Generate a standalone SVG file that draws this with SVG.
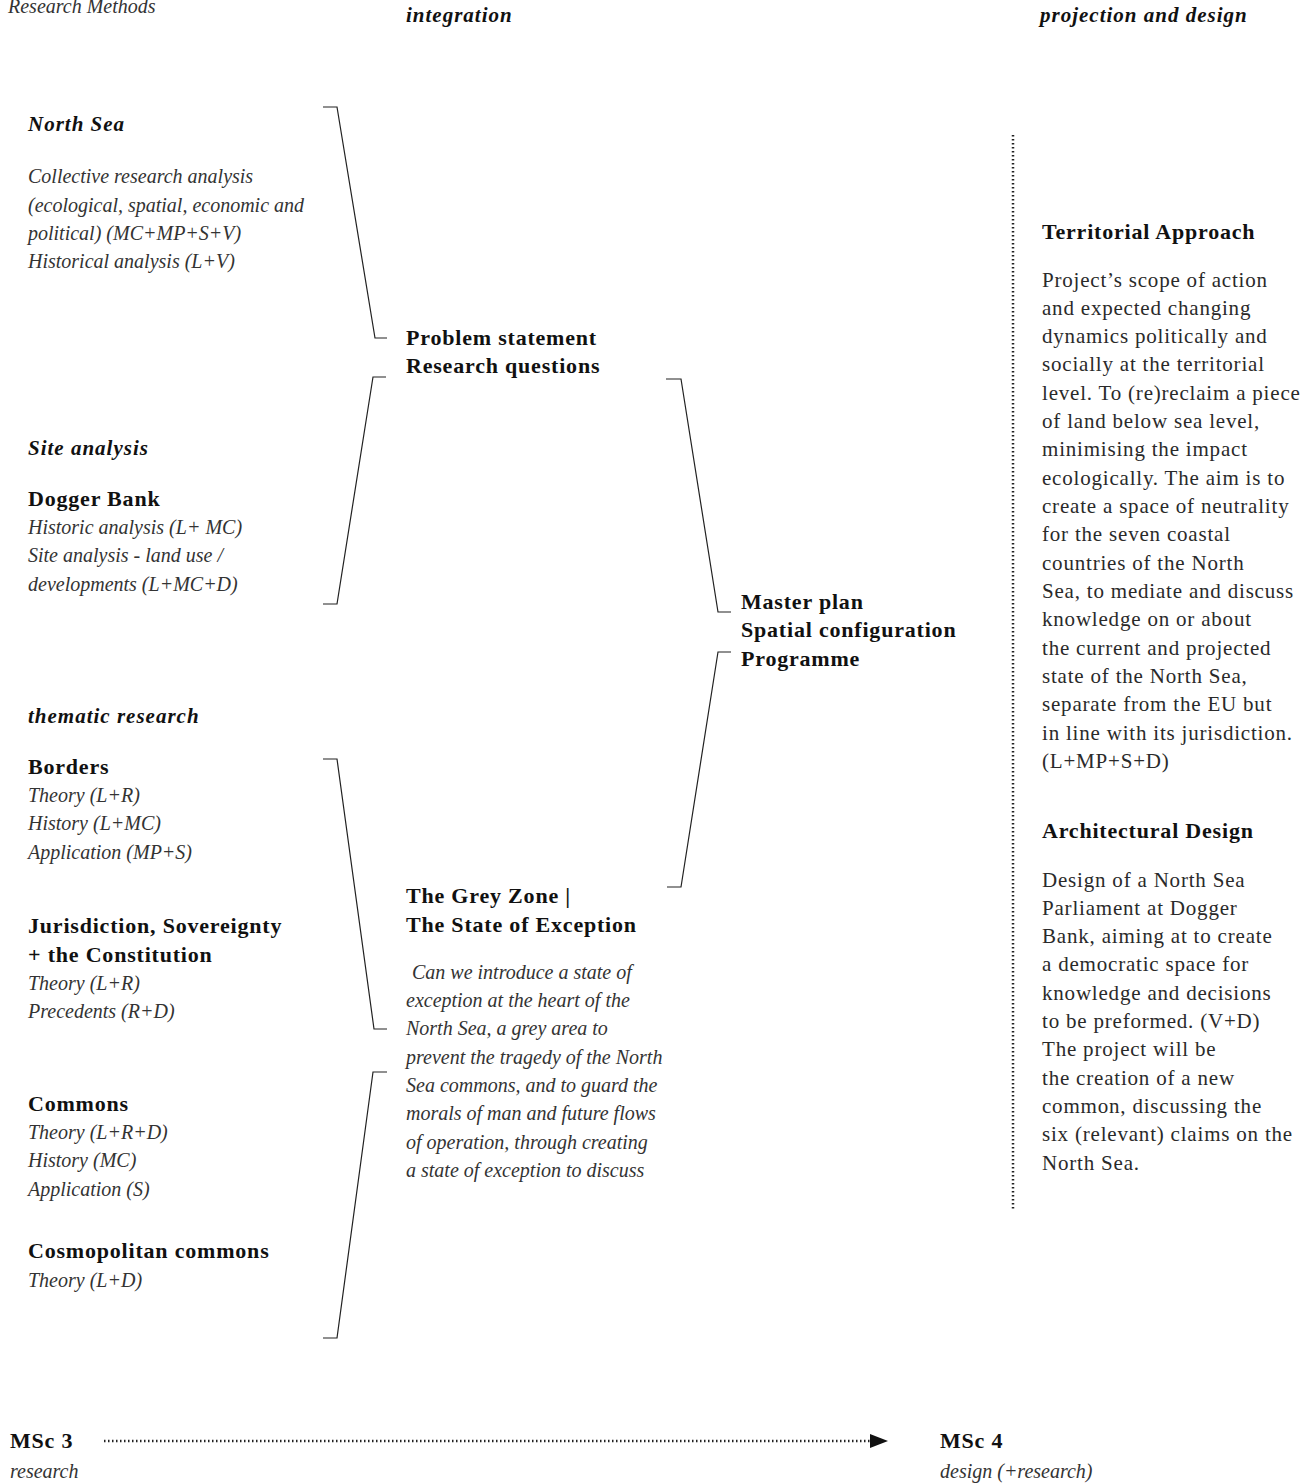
<svg xmlns="http://www.w3.org/2000/svg" width="1312" height="1483" viewBox="0 0 1312 1483">
  <style>
    text { font-family: "Liberation Serif", "DejaVu Serif", serif; font-size: 21px; letter-spacing: 0.8px; fill: #2a2a2a; }
    .b { font-weight: bold; font-size: 22px; letter-spacing: 0.8px; fill: #111; }
    .i { font-style: italic; font-size: 20px; letter-spacing: 0; fill: #333; }
    .bi { font-weight: bold; font-style: italic; letter-spacing: 1px; fill: #111; }
    .bracket { fill: none; stroke: #222; stroke-width: 1.2; }
    .dots { fill: none; stroke: #222; stroke-width: 2.5; stroke-dasharray: 1.5 2.5; }
  </style>
  <defs>
    <marker id="arrow" markerWidth="18" markerHeight="16" refX="1" refY="8" orient="auto" markerUnits="userSpaceOnUse">
      <path d="M0,1 L0,15 L18,8 Z" fill="#111"/>
    </marker>
  </defs>
  <rect width="1312" height="1483" fill="#fff"/>

  <!-- column headings -->
  <g id="headings">
    <text class="i" x="8" y="13">Research Methods</text>
    <text class="bi" x="406" y="22">integration</text>
    <text class="bi" x="1040" y="22">projection and design</text>
  </g>

  <!-- brackets linking the stages -->
  <g id="connectors">
    <polyline class="bracket" points="323,107 337,107 375,338 387,338"/>
    <polyline class="bracket" points="386,377 373,377 337,604 323,604"/>
    <polyline class="bracket" points="666,379 681,379 718,612 731,612"/>
    <polyline class="bracket" points="731,652 718,652 681,887 667,887"/>
    <polyline class="bracket" points="323,759 337,759 374,1029 387,1029"/>
    <polyline class="bracket" points="387,1072 373,1072 337,1338 323,1338"/>
    <line class="dots" x1="1013" y1="135" x2="1013" y2="1210"/>
    <line class="dots" x1="104" y1="1441" x2="871" y2="1441" marker-end="url(#arrow)"/>
  </g>

  <g id="north-sea">
    <text class="bi" x="28" y="131">North Sea</text>
    <text class="i" x="28" y="183">Collective research analysis</text>
    <text class="i" x="28" y="212">(ecological, spatial, economic and</text>
    <text class="i" x="28" y="240">political) (MC+MP+S+V)</text>
    <text class="i" x="28" y="268">Historical analysis (L+V)</text>
  </g>

  <g id="site-analysis">
    <text class="bi" x="28" y="455">Site analysis</text>
    <text class="b" x="28" y="506">Dogger Bank</text>
    <text class="i" x="28" y="534">Historic analysis (L+ MC)</text>
    <text class="i" x="28" y="562">Site analysis - land use /</text>
    <text class="i" x="28" y="591">developments (L+MC+D)</text>
  </g>

  <g id="thematic-research">
    <text class="bi" x="28" y="723">thematic research</text>
    <text class="b" x="28" y="774">Borders</text>
    <text class="i" x="28" y="802">Theory (L+R)</text>
    <text class="i" x="28" y="830">History (L+MC)</text>
    <text class="i" x="28" y="859">Application (MP+S)</text>
    <text class="b" x="28" y="933">Jurisdiction, Sovereignty</text>
    <text class="b" x="28" y="962">+ the Constitution</text>
    <text class="i" x="28" y="990">Theory (L+R)</text>
    <text class="i" x="28" y="1018">Precedents (R+D)</text>
    <text class="b" x="28" y="1111">Commons</text>
    <text class="i" x="28" y="1139">Theory (L+R+D)</text>
    <text class="i" x="28" y="1167">History (MC)</text>
    <text class="i" x="28" y="1196">Application (S)</text>
    <text class="b" x="28" y="1258">Cosmopolitan commons</text>
    <text class="i" x="28" y="1287">Theory (L+D)</text>
  </g>

  <g id="problem-statement">
    <text class="b" x="406" y="345">Problem statement</text>
    <text class="b" x="406" y="373">Research questions</text>
  </g>

  <g id="grey-zone">
    <text class="b" x="406" y="903">The Grey Zone |</text>
    <text class="b" x="406" y="932">The State of Exception</text>
    <text class="i" x="412" y="979">Can we introduce a state of</text>
    <text class="i" x="406" y="1007">exception at the heart of  the</text>
    <text class="i" x="406" y="1035">North Sea, a grey area to</text>
    <text class="i" x="406" y="1064">prevent the tragedy of  the North</text>
    <text class="i" x="406" y="1092">Sea commons, and to guard the</text>
    <text class="i" x="406" y="1120">morals of  man and future flows</text>
    <text class="i" x="406" y="1149">of  operation, through creating</text>
    <text class="i" x="406" y="1177">a state of  exception to discuss</text>
  </g>

  <g id="master-plan">
    <text class="b" x="741" y="609">Master plan</text>
    <text class="b" x="741" y="637">Spatial configuration</text>
    <text class="b" x="741" y="666">Programme</text>
  </g>

  <g id="territorial-approach">
    <text class="b" x="1042" y="239">Territorial Approach</text>
    <text x="1042" y="287">Project’s scope of action</text>
    <text x="1042" y="315">and expected changing</text>
    <text x="1042" y="343">dynamics politically and</text>
    <text x="1042" y="371">socially at the territorial</text>
    <text x="1042" y="400">level. To (re)reclaim a piece</text>
    <text x="1042" y="428">of land below sea level,</text>
    <text x="1042" y="456">minimising the impact</text>
    <text x="1042" y="485">ecologically. The aim is to</text>
    <text x="1042" y="513">create a space of neutrality</text>
    <text x="1042" y="541">for the seven coastal</text>
    <text x="1042" y="570">countries of the North</text>
    <text x="1042" y="598">Sea, to mediate and discuss</text>
    <text x="1042" y="626">knowledge on or about</text>
    <text x="1042" y="655">the current and projected</text>
    <text x="1042" y="683">state of the North Sea,</text>
    <text x="1042" y="711">separate from the EU but</text>
    <text x="1042" y="740">in line with its jurisdiction.</text>
    <text x="1042" y="768">(L+MP+S+D)</text>
  </g>

  <g id="architectural-design">
    <text class="b" x="1042" y="838">Architectural Design</text>
    <text x="1042" y="887">Design of a North Sea</text>
    <text x="1042" y="915">Parliament at Dogger</text>
    <text x="1042" y="943">Bank, aiming at to create</text>
    <text x="1042" y="971">a democratic space for</text>
    <text x="1042" y="1000">knowledge and decisions</text>
    <text x="1042" y="1028">to be preformed. (V+D)</text>
    <text x="1042" y="1056">The project will be</text>
    <text x="1042" y="1085">the creation of a new</text>
    <text x="1042" y="1113">common, discussing the</text>
    <text x="1042" y="1141">six (relevant) claims on the</text>
    <text x="1042" y="1170">North Sea.</text>
  </g>

  <g id="msc3">
    <text class="b" x="10" y="1448">MSc 3</text>
    <text class="i" x="10" y="1478">research</text>
  </g>

  <g id="msc4">
    <text class="b" x="940" y="1448">MSc 4</text>
    <text class="i" x="940" y="1478">design (+research)</text>
  </g>
</svg>
